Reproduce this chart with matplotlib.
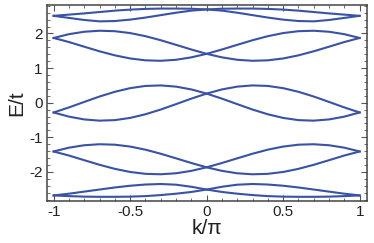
import numpy as np
import matplotlib
matplotlib.use("Agg")
import matplotlib.pyplot as plt
from matplotlib.ticker import MultipleLocator, FuncFormatter

plt.rcParams['font.family'] = ['Liberation Sans', 'DejaVu Sans']

# k/pi sample points
k = [-1.0, -0.9, -0.8, -0.7, -0.6, -0.5, -0.4, -0.3, -0.2, -0.1, 0.0,
     0.1, 0.2, 0.3, 0.4, 0.5, 0.6, 0.7, 0.8, 0.9, 1.0]

# one branch of each band pair (E/t); the partner branch is its mirror in k
band1 = [2.51, 2.45, 2.39, 2.35, 2.36, 2.40, 2.46, 2.53, 2.60, 2.66, 2.695,
         2.715, 2.72, 2.72, 2.71, 2.69, 2.66, 2.62, 2.58, 2.545, 2.51]
band2 = [1.87, 1.98, 2.05, 2.079, 2.066, 2.012, 1.922, 1.805, 1.672, 1.537, 1.412,
         1.31, 1.24, 1.211, 1.224, 1.278, 1.368, 1.485, 1.618, 1.753, 1.87]
band3 = [-0.283, -0.137, 0.022, 0.178, 0.315, 0.42, 0.484, 0.499, 0.464, 0.383, 0.263,
         0.117, -0.042, -0.198, -0.335, -0.44, -0.504, -0.519, -0.484, -0.403, -0.283]
band4 = [-1.41, -1.30, -1.23, -1.201, -1.214, -1.268, -1.358, -1.475, -1.608, -1.743, -1.868,
         -1.97, -2.04, -2.069, -2.056, -2.002, -1.912, -1.795, -1.662, -1.527, -1.41]
band5 = [-2.68, -2.63, -2.57, -2.51, -2.45, -2.40, -2.365, -2.35, -2.37, -2.43, -2.51,
         -2.58, -2.63, -2.67, -2.70, -2.715, -2.72, -2.72, -2.715, -2.70, -2.68]

bands = [band1, band2, band3, band4, band5]
line_color = '#3a52a3'

fig = plt.figure(figsize=(3.74, 2.43), dpi=100)
ax = fig.add_axes([0.125, 0.173, 0.855, 0.806])

for b in bands:
    ax.plot(k, b, color=line_color, lw=1.5)
    ax.plot(k, b[::-1], color=line_color, lw=1.5)

ax.set_xlim(-1.045, 1.045)
ax.set_ylim(-2.84, 2.82)

ax.xaxis.set_major_locator(MultipleLocator(0.5))
ax.xaxis.set_minor_locator(MultipleLocator(0.1))
ax.yaxis.set_major_locator(MultipleLocator(1))
ax.yaxis.set_minor_locator(MultipleLocator(0.2))
ax.xaxis.set_major_formatter(FuncFormatter(lambda v, p: '%g' % v))
ax.yaxis.set_major_formatter(FuncFormatter(lambda v, p: '%g' % v))

ax.tick_params(which='both', direction='in', top=True, right=True,
               color='#555555', labelsize=11, labelcolor='#222222')
ax.tick_params(which='major', length=4, width=0.8, pad=3)
ax.tick_params(which='minor', length=2, width=0.6)

for s in ax.spines.values():
    s.set_color('#444444')
    s.set_linewidth(1.1)

ax.set_xlabel('k/\u03c0', fontsize=15, labelpad=0, color='#222222')
ax.set_ylabel('E/t', fontsize=15, labelpad=2, color='#222222')

plt.savefig('out.png', dpi=100)
